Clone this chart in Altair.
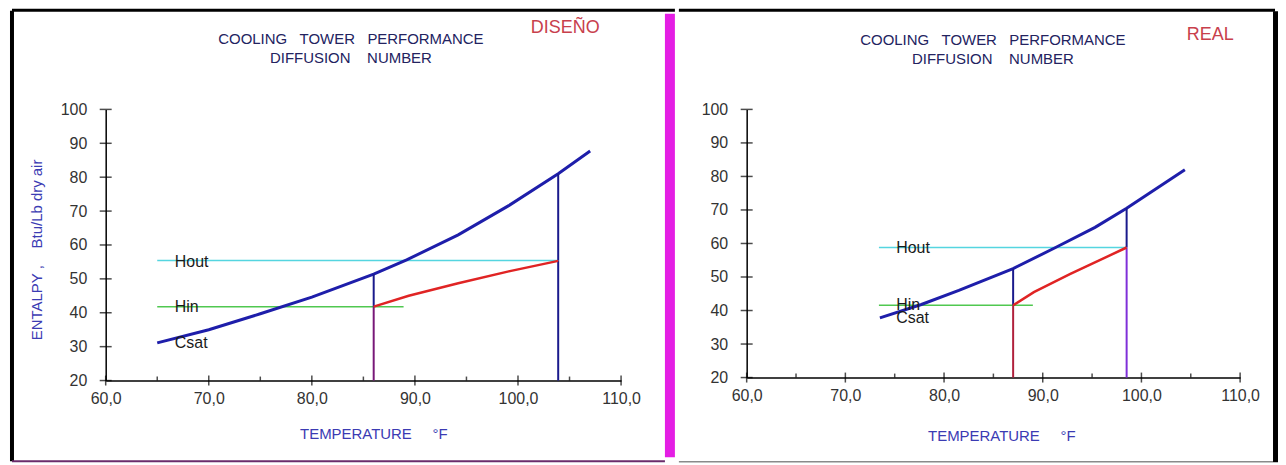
import altair as alt
import pandas as pd

FONT = "Liberation Sans"

# ---------------- data ----------------
X_TICKS = [60, 70, 80, 90, 100, 110]
X_MINOR = [65, 75, 85, 95, 105]
Y_TICKS = [20, 30, 40, 50, 60, 70, 80, 90, 100]
Y_MIN = 20

# DISEÑO panel
D_CSAT_T = [65.0, 70.0, 75.0, 80.0, 86.0, 89.2, 94.2, 99.1, 103.9, 107.0]
D_CSAT_H = [31.1, 35.0, 39.7, 44.6, 51.4, 55.6, 63.0, 71.6, 81.0, 87.7]
D_OP_T = [86.0, 89.4, 94.2, 99.1, 103.9]
D_OP_H = [41.8, 45.0, 48.7, 52.2, 55.3]
D_HIN = 41.8
D_HIN_SPAN = [65.0, 88.9]
D_HOUT = 55.4
D_HOUT_SPAN = [65.0, 103.9]
D_T_COLD = 86.0
D_T_HOT = 103.9
D_CSAT_COLD = 51.4
D_CSAT_HOT = 81.0
D_LABEL_T = 66.8
D_LABELS = ["Hout", "Hin", "Csat"]
D_LABEL_H = [55.0, 41.6, 31.0]

# REAL panel
R_CSAT_T = [73.5, 77.7, 81.5, 87.0, 91.3, 95.3, 98.5, 104.4]
R_CSAT_H = [37.8, 41.8, 46.0, 52.5, 58.8, 64.8, 70.5, 82.0]
R_OP_T = [87.0, 89.1, 92.8, 98.5]
R_OP_H = [41.55, 45.5, 50.9, 58.8]
R_HIN = 41.55
R_HIN_SPAN = [73.4, 89.0]
R_HOUT = 58.8
R_HOUT_SPAN = [73.4, 98.5]
R_T_COLD = 87.0
R_T_HOT = 98.5
R_CSAT_COLD = 52.5
R_CSAT_HOT = 70.5
R_LABEL_T = 75.25
R_LABELS = ["Hout", "Hin", "Csat"]
R_LABEL_H = [58.7, 41.5, 37.7]

TITLE_1 = "COOLING\u00a0\u00a0\u00a0TOWER\u00a0\u00a0\u00a0PERFORMANCE"
TITLE_2 = "DIFFUSION\u00a0\u00a0\u00a0\u00a0NUMBER"
X_TITLE = "TEMPERATURE\u00a0\u00a0\u00a0\u00a0\u00a0°F"
Y_TITLE = "ENTALPY\u00a0,\u00a0\u00a0\u00a0\u00a0Btu/Lb dry air"

# ---------------- colours ----------------
C_CSAT = "#1e1eaa"
C_NAVY = "#1a1a8c"
C_RED = "#e02424"
C_HOUT = "#55d5e0"
C_HIN = "#50c850"
C_TITLE = "#23235f"
C_AXT = "#3b3bb3"
C_TAG = "#c8404c"

xs = alt.Scale(domain=[60, 110], nice=False, zero=False)
ys = alt.Scale(domain=[20, 100], nice=False, zero=False)

def xaxis():
    return alt.Axis(values=X_TICKS, labelExpr="replace(format(datum.value, '.1f'), '.', ',')",
                    ticks=False, grid=False, domainColor="black", domainWidth=1.5,
                    labelFont=FONT, labelFontSize=16, labelColor="#333333",
                    labelPadding=10, labelFlush=False, title=None)

def yaxis():
    return alt.Axis(values=Y_TICKS, format="d", ticks=False, grid=False,
                    domainColor="black", domainWidth=1.5,
                    labelFont=FONT, labelFontSize=16, labelColor="#333333",
                    labelPadding=19, labelFlush=False, title=None)

def X(f):
    return alt.X(f, type="quantitative", scale=xs, axis=xaxis())

def Y(f):
    return alt.Y(f, type="quantitative", scale=ys, axis=yaxis())

ONE = pd.DataFrame({"k": [0]})

def txt(s, x, y, size, color, angle=0):
    return alt.Chart(ONE).mark_text(text=s, font=FONT, fontSize=size, color=color,
                                    align="center", baseline="middle", angle=angle
                                    ).encode(x=alt.value(x), y=alt.value(y))

def hrule(x1, x2, y, color, w):
    return alt.Chart(ONE).mark_rule(color=color, strokeWidth=w).encode(
        x=alt.value(x1), x2=alt.value(x2), y=alt.value(y))

def vrule(x, y1, y2, color, w):
    return alt.Chart(ONE).mark_rule(color=color, strokeWidth=w).encode(
        x=alt.value(x), y=alt.value(y1), y2=alt.value(y2))

def panel(tag, W, H, csat_t, csat_h, op_t, op_h, hin, hin_span, hout, hout_span,
          t_cold, t_hot, csat_cold, csat_hot, seg_colors, label_t, labels, label_h, deco):
    hl = pd.DataFrame({"T0": [hout_span[0], hin_span[0]], "T1": [hout_span[1], hin_span[1]],
                       "H": [hout, hin], "k": ["Hout", "Hin"]})
    csat = pd.DataFrame({"T": csat_t, "H": csat_h})
    op = pd.DataFrame({"T": op_t, "H": op_h})
    seg_names = [tag + s for s in ["a", "b", "c", "d"]]
    segs = pd.DataFrame({
        "seg": seg_names,
        "T": [t_cold, t_cold, t_hot, t_hot],
        "H1": [hin, Y_MIN, hout, Y_MIN],
        "H2": [csat_cold, hin, csat_hot, hout],
    })
    labs = pd.DataFrame({"T": [label_t] * len(labels), "H": label_h, "t": labels})

    layers = []
    layers.append(alt.Chart(hl).mark_rule(strokeWidth=1.5).encode(
        x=X("T0"), x2="T1", y=Y("H"),
        color=alt.Color("k:N", scale=alt.Scale(domain=["Hout", "Hin"], range=[C_HOUT, C_HIN]), legend=None)))
    layers.append(alt.Chart(csat).mark_line(color=C_CSAT, strokeWidth=3).encode(x=X("T"), y=Y("H")))
    layers.append(alt.Chart(segs).mark_rule(strokeWidth=2).encode(
        x=X("T"), y=Y("H1"), y2="H2",
        stroke=alt.Stroke("seg:N", scale=alt.Scale(domain=seg_names, range=seg_colors), legend=None)))
    layers.append(alt.Chart(op).mark_line(color=C_RED, strokeWidth=2.5).encode(x=X("T"), y=Y("H")))
    layers.append(alt.Chart(labs).mark_text(font=FONT, fontSize=16, color="#1a1a1a", align="left",
                                            baseline="middle", dx=-1).encode(x=X("T"), y=Y("H"), text="t:N"))
    # axis ticks (crossing majors, inner minors)
    layers.append(alt.Chart(pd.DataFrame({"v": X_TICKS})).mark_tick(
        orient="vertical", color="black", thickness=1.5, size=10).encode(x=X("v"), y=alt.value(H)))
    layers.append(alt.Chart(pd.DataFrame({"v": X_MINOR})).mark_tick(
        orient="vertical", color="black", thickness=1.5, size=4).encode(x=X("v"), y=alt.value(H - 2)))
    layers.append(alt.Chart(pd.DataFrame({"v": Y_TICKS})).mark_tick(
        orient="horizontal", color="black", thickness=1.5, size=12).encode(y=Y("v"), x=alt.value(0)))
    layers += deco
    return alt.layer(*layers).properties(
        width=W, height=H,
        view=alt.ViewBackground(stroke="transparent", strokeWidth=0))

# both plot areas start at page y=109; left x origin 106, right x origin 745
LW, LH = 517, 272
left_deco = [
    txt(TITLE_1, 246, -71, 15, C_TITLE),
    txt(TITLE_2, 246, -52, 15, C_TITLE),
    txt("DISEÑO", 461, -81.5, 18, C_TAG),
    txt(X_TITLE, 269, 326, 15, C_AXT),
    txt(Y_TITLE, -69, 141, 15, C_AXT, angle=270),
    hrule(-94, 571, -99.5, "black", 3),
    vrule(-94, -99, 353, "black", 4),
    hrule(-94, 561, 353, "#6b2c6b", 2),
    vrule(566, -96, 349, "#e41ee4", 10),
]
left = panel("D", LW, LH, D_CSAT_T, D_CSAT_H, D_OP_T, D_OP_H, D_HIN, D_HIN_SPAN, D_HOUT, D_HOUT_SPAN,
             D_T_COLD, D_T_HOT, D_CSAT_COLD, D_CSAT_HOT,
             [C_NAVY, "#781878", C_NAVY, C_NAVY], D_LABEL_T, D_LABELS, D_LABEL_H, left_deco)

RW, RH = 495, 269
right_deco = [
    txt(TITLE_1, 247, -70, 15, C_TITLE),
    txt(TITLE_2, 247, -51, 15, C_TITLE),
    txt("REAL", 465, -75, 18, C_TAG),
    txt(X_TITLE, 256, 328, 15, C_AXT),
    hrule(-68, 530, -99.5, "black", 3),
    vrule(530.5, -98.5, 354, "black", 5),
    hrule(-68, 528, 353.5, "#8a8a8a", 1.5),
]
right = panel("R", RW, RH, R_CSAT_T, R_CSAT_H, R_OP_T, R_OP_H, R_HIN, R_HIN_SPAN, R_HOUT, R_HOUT_SPAN,
              R_T_COLD, R_T_HOT, R_CSAT_COLD, R_CSAT_HOT,
              [C_NAVY, "#b0203c", C_NAVY, "#7f2fd8"], R_LABEL_T, R_LABELS, R_LABEL_H, right_deco)

chart = alt.hconcat(left, right, spacing=0).resolve_scale(
    stroke="independent", color="independent"
).properties(
    padding={"left": 2, "top": 0, "right": 0, "bottom": 0}
).configure_view(stroke="transparent", strokeWidth=0).configure(background="white")

chart.save("out.html", embed_options={"renderer": "svg", "actions": False})
